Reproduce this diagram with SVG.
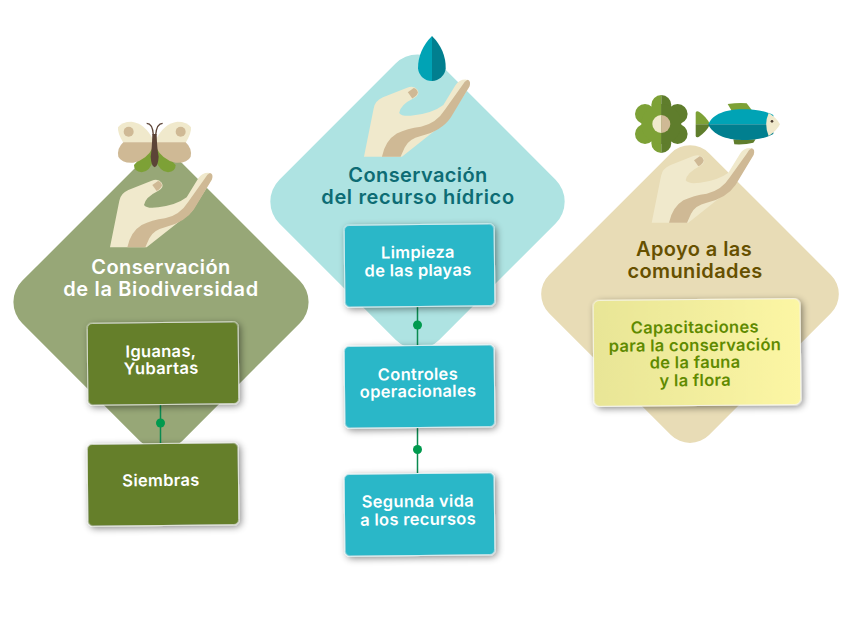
<svg xmlns="http://www.w3.org/2000/svg" width="850" height="634" viewBox="0 0 850 634">
<style>
text{font-family:Inter,"Open Sans","Liberation Sans",sans-serif;font-weight:600;text-anchor:middle}
.title{font-size:20px;letter-spacing:.4px}
.lbl{font-size:16.5px;letter-spacing:.3px;fill:#fff}
.box{stroke:#fff;stroke-width:.7;filter:url(#sh)}
.conn{stroke:#0a8a50;stroke-width:1.5;fill:none}
.dot{fill:#009a4e}
.cream{fill:#f0e9cc}.tan{fill:#cfb995}.lg{fill:#7da136}.dg{fill:#5f7d2c}.tl{fill:#00a3b5}.td{fill:#017f8f}
</style>
<defs>
<filter id="sh" x="-15%" y="-20%" width="130%" height="140%"><feDropShadow dx="2" dy="2" stdDeviation="3.500" flood-color="#000" flood-opacity=".45"/></filter>
<clipPath id="lc"><rect x="-40" y="-40" width="40" height="80"/></clipPath>
<clipPath id="rc"><rect x="0" y="-40" width="40" height="80"/></clipPath>
<linearGradient id="yg" x1="0" x2="1" y1="0" y2="0"><stop offset="0" stop-color="#e8e596"/><stop offset="1" stop-color="#fcf6a4"/></linearGradient>
<g id="hand" transform="scale(.3333) translate(-60,-412)">
<path class="cream" d="M60 412L88 272Q92 250 115 240L185 212Q205 205 215 218Q224 232 205 242Q165 262 162 285Q170 297 205 292Q260 285 290 262L325 205Q335 188 355 188Q370 190 365 210L305 305L170 412Z"/>
<path class="tan" d="M112 412Q122 365 155 345Q185 330 225 325Q270 315 295 275L345 205Q352 192 360 189Q371 192 366 208L312 298Q285 338 225 352Q190 360 178 385L166 412Z"/>
<path class="tan" d="M187 225L204 213Q214 215 216 226Q214 236 200 243Z"/>
</g>
<g id="petals"><circle cx="0" cy="-19" r="10"/><circle cx="16.300" cy="-10" r="10"/><circle cx="16.300" cy="10" r="10"/><circle cx="0" cy="19" r="10"/><circle cx="-16.300" cy="10" r="10"/><circle cx="-16.300" cy="-10" r="10"/><circle r="20"/></g>
</defs>

<g id="diamond-green"><rect x="47.900" y="188.900" width="226.300" height="226.300" rx="30" transform="rotate(45 161 302)" fill="#97a777"/></g>
<g id="diamond-blue"><rect x="304.400" y="88.400" width="226.300" height="226.300" rx="31" transform="rotate(45 417.500 201.500)" fill="#aee3e2"/></g>
<g id="diamond-tan"><rect x="576.900" y="180.900" width="226.300" height="226.300" rx="27" transform="rotate(45 690 294)" fill="#e8dcb6"/></g>

<g id="connectors">
<path class="conn" d="M160.500 405V443M417.500 307V345M417.500 428V473"/>
<circle class="dot" cx="160.500" cy="423" r="4.500"/>
<circle class="dot" cx="417.500" cy="325" r="4.500"/>
<circle class="dot" cx="417.500" cy="449.500" r="4.500"/>
</g>

<g id="icon-green">
<use href="#hand" x="110" y="247.300"/>
<g transform="translate(90,110) scale(.3333)">
<path class="lg" d="M185 112Q150 145 132 165Q132 185 155 187Q180 185 190 150Z"/>
<path class="lg" d="M202 112Q237 145 257 165Q257 185 234 187Q209 185 197 150Z"/>
<path class="cream" d="M190 98L100 98Q82 70 84 52Q95 35 125 35Q165 40 190 90Z"/>
<path class="cream" d="M197 98L287 98Q305 70 303 52Q292 35 262 35Q222 40 197 90Z"/>
<circle class="tan" cx="116" cy="65" r="15"/><circle class="tan" cx="272" cy="65" r="15"/>
<path class="tan" d="M190 97L100 97Q80 115 85 140Q95 160 130 158Q170 150 190 110Z"/>
<path class="tan" d="M197 97L287 97Q307 115 302 140Q292 160 257 158Q217 150 197 110Z"/>
<path d="M187 72Q186 115 182 140Q184 170 194 172Q204 170 206 140Q201 115 200 72Z" fill="#5c4437"/>
<path d="M190 75Q188 40 170 40M197 75Q200 40 218 40" fill="none" stroke="#5c4437" stroke-width="4"/>
</g>
</g>

<g id="icon-blue">
<g transform="translate(364,156.700) scale(1.035,1.035)"><use href="#hand"/></g>
<path class="tl" d="M432 36Q418 50 418 68.500A14 14 0 0 0 432 81Z"/>
<path class="td" d="M432 36Q446 50 445.700 68.500A14 14 0 0 1 432 81Z"/>
</g>

<g id="icon-tan">
<use href="#hand" x="651.700" y="222.700"/>
<g transform="translate(661.300,124)">
<use href="#petals" class="lg" clip-path="url(#lc)"/>
<use href="#petals" class="dg" clip-path="url(#rc)"/>
<circle class="cream" r="9" clip-path="url(#lc)"/>
<circle class="tan" r="9" clip-path="url(#rc)"/>
</g>
<g transform="translate(625,90) scale(.3333)">
<path class="lg" d="M308 42Q340 38 365 40L382 62L320 62Z"/>
<path class="dg" d="M325 148L392 148L385 158Q360 165 328 163Z"/>
<path class="lg" d="M212 68Q214 62 222 65Q245 80 255 103L212 103Z"/>
<path class="dg" d="M212 103L255 103Q245 125 222 140Q214 144 212 138Z"/>
<path class="tl" d="M250 103C262 72 305 58 350 58C390 58 420 62 445 75L445 103Z"/>
<path class="td" d="M250 103C262 134 305 150 350 150C390 150 420 146 445 132L445 103Z"/>
<path class="cream" d="M431 69Q455 83 465 103Q455 123 431 138Q416 103 431 69Z"/>
<circle cx="441" cy="94" r="4" fill="#4a3a30"/>
</g>
</g>

<g id="title-green"><text class="title" fill="#fff"><tspan x="161" y="274">Conservación</tspan><tspan x="161" y="296" style="letter-spacing:.65px">de la Biodiversidad</tspan></text></g>
<g id="title-blue"><text class="title" fill="#0d6c74"><tspan x="418" y="182">Conservación</tspan><tspan x="418" y="204" style="letter-spacing:.65px">del recurso hídrico</tspan></text></g>
<g id="title-tan"><text class="title" fill="#665000"><tspan x="694" y="256">Apoyo a las</tspan><tspan x="695" y="278">comunidades</tspan></text></g>

<g id="node-iguanas" transform="rotate(-.6 163 363)"><rect class="box" x="87.500" y="322.500" width="151" height="82" rx="5" fill="#657f2b"/><text class="lbl"><tspan x="161" y="357">Iguanas,</tspan><tspan x="161" y="374">Yubartas</tspan></text></g>
<g id="node-siembras" transform="rotate(-.6 163 484)"><rect class="box" x="87.500" y="443.500" width="151" height="82" rx="5" fill="#657f2b"/><text class="lbl" x="161" y="486">Siembras</text></g>
<g id="node-limpieza" transform="rotate(-.6 420 265)"><rect class="box" x="344.500" y="224.500" width="150" height="82" rx="5" fill="#2cb7c8"/><text class="lbl"><tspan x="418" y="258">Limpieza</tspan><tspan x="418" y="276">de las playas</tspan></text></g>
<g id="node-controles" transform="rotate(-.6 420 386)"><rect class="box" x="344.500" y="345.500" width="150" height="82" rx="5" fill="#2cb7c8"/><text class="lbl"><tspan x="418" y="380">Controles</tspan><tspan x="418" y="397">operacionales</tspan></text></g>
<g id="node-segunda" transform="rotate(-.6 420 514)"><rect class="box" x="344.500" y="473.500" width="150" height="82" rx="5" fill="#2cb7c8"/><text class="lbl"><tspan x="418" y="507">Segunda vida</tspan><tspan x="418" y="525">a los recursos</tspan></text></g>
<g id="node-capacitaciones" transform="rotate(-.5 697 353)">
<rect class="box" x="593.500" y="299.500" width="207" height="106" rx="6" fill="url(#yg)"/>
<text class="lbl" style="fill:#5f8a00"><tspan x="695" y="333">Capacitaciones</tspan><tspan x="695" y="351">para la conservación</tspan><tspan x="695" y="368">de la fauna</tspan><tspan x="695" y="386">y la flora</tspan></text>
</g>
</svg>
